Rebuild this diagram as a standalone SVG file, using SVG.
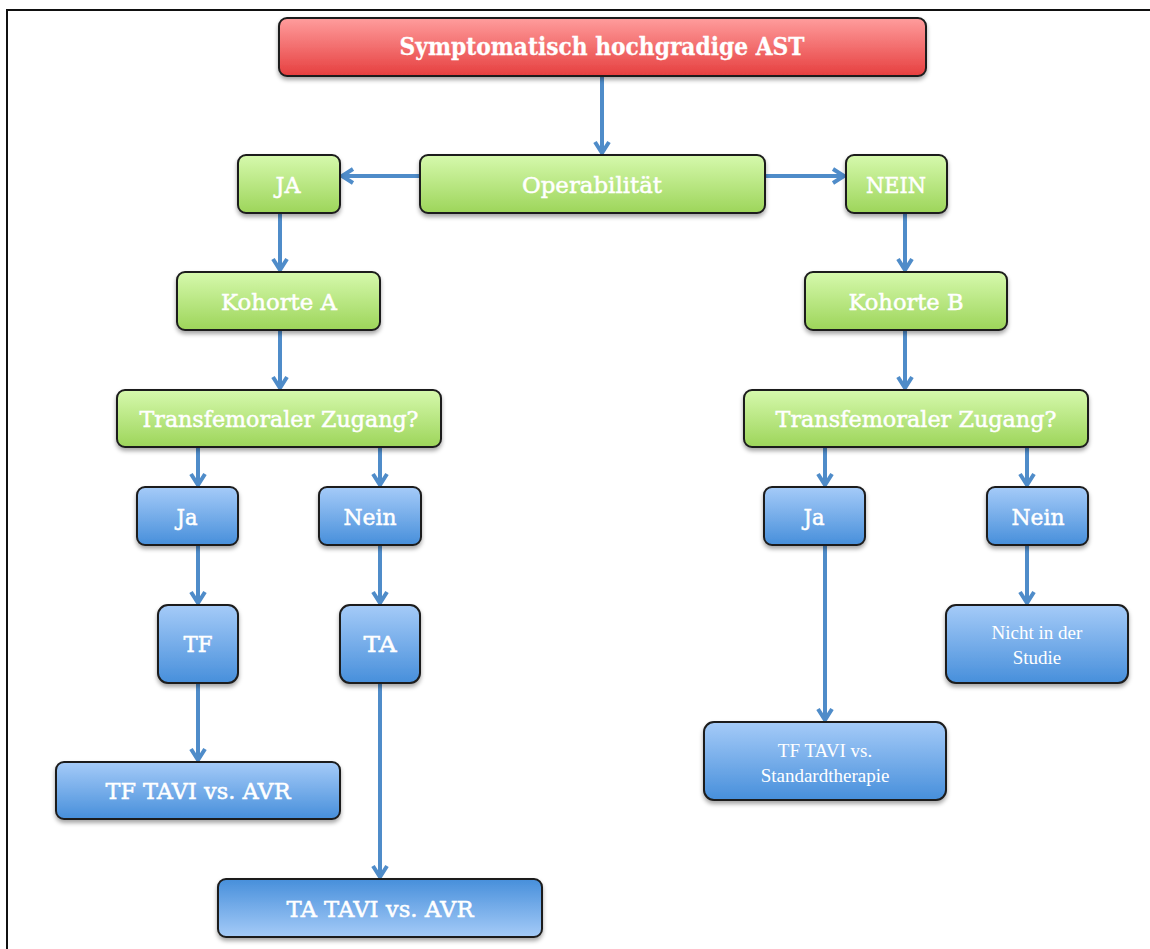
<svg xmlns="http://www.w3.org/2000/svg" width="1150" height="949" viewBox="0 0 1150 949">
<style>
.box{stroke:#1c1c1c;stroke-width:2;filter:url(#sh)}
.red{fill:url(#gRed)}
.green{fill:url(#gGreen)}
.blue{fill:url(#gBlue)}
.blueR{fill:url(#gBlueR)}
.t{font-family:"DejaVu Serif","Liberation Serif",serif;fill:#ffffff;stroke:#ffffff;stroke-width:0.5;text-anchor:middle;font-size:22px}
.tb{font-size:25px;font-weight:bold;stroke-width:0.3}
.ts{font-family:"Liberation Serif","Times New Roman",serif;fill:#ffffff;text-anchor:middle;font-size:19px}
.c{fill:none;stroke:#4f8cc9;stroke-width:4;marker-end:url(#ah)}
</style>
<defs>
<linearGradient id="gRed" x1="0" y1="0" x2="0" y2="1"><stop offset="0" stop-color="#ff9d9d"/><stop offset="1" stop-color="#e63f3f"/></linearGradient>
<linearGradient id="gGreen" x1="0" y1="0" x2="0" y2="1"><stop offset="0" stop-color="#d6f9ad"/><stop offset="1" stop-color="#9dd55a"/></linearGradient>
<linearGradient id="gBlue" x1="0" y1="0" x2="0" y2="1"><stop offset="0" stop-color="#a5cbf8"/><stop offset="1" stop-color="#478fdb"/></linearGradient>
<linearGradient id="gBlueR" x1="0" y1="0" x2="0" y2="1"><stop offset="0" stop-color="#478fdb"/><stop offset="1" stop-color="#a5cbf8"/></linearGradient>
<filter id="sh" x="-10%" y="-20%" width="120%" height="150%"><feDropShadow dx="0" dy="3" stdDeviation="2" flood-color="#000" flood-opacity="0.35"/></filter>
<marker id="ah" markerUnits="userSpaceOnUse" markerWidth="20" markerHeight="20" refX="13" refY="8" orient="auto" viewBox="0 0 20 16"><path d="M2,1 L13,8 L2,15" fill="none" stroke="#4f8cc9" stroke-width="4" stroke-linejoin="miter"/></marker>
</defs>
<rect width="1150" height="949" fill="#ffffff"/>
<path d="M7,949 V10 H1150" fill="none" stroke="#111" stroke-width="2"/>

<g id="connectors">
<path class="c" d="M602,77 V153"/>
<path class="c" d="M420,176 H342"/>
<path class="c" d="M765,176 H844"/>
<path class="c" d="M280,214 V270"/>
<path class="c" d="M905,214 V270"/>
<path class="c" d="M280,331 V388"/>
<path class="c" d="M905,331 V388"/>
<path class="c" d="M198,448 V485"/>
<path class="c" d="M380,448 V485"/>
<path class="c" d="M825,448 V485"/>
<path class="c" d="M1027,448 V485"/>
<path class="c" d="M198,546 V603"/>
<path class="c" d="M380,546 V603"/>
<path class="c" d="M1027,546 V603"/>
<path class="c" d="M198,684 V760"/>
<path class="c" d="M380,684 V877"/>
<path class="c" d="M825,546 V720"/>
</g>

<g id="n-ast"><rect class="box red" x="279" y="18" width="647" height="58" rx="8"/><text class="t tb" x="602" y="55" textLength="405" lengthAdjust="spacingAndGlyphs">Symptomatisch hochgradige AST</text></g>
<g id="n-oper"><rect class="box green" x="420" y="155" width="345" height="58" rx="8"/><text class="t" x="592" y="193" textLength="140" lengthAdjust="spacingAndGlyphs">Operabilität</text></g>
<g id="n-ja"><rect class="box green" x="238" y="155" width="102" height="58" rx="8"/><text class="t" x="288" y="193" textLength="25" lengthAdjust="spacingAndGlyphs">JA</text></g>
<g id="n-nein"><rect class="box green" x="846" y="155" width="101" height="58" rx="8"/><text class="t" x="896" y="193" textLength="60" lengthAdjust="spacingAndGlyphs">NEIN</text></g>
<g id="n-kohA"><rect class="box green" x="177" y="272" width="203" height="58" rx="8"/><text class="t" x="279" y="310" textLength="116" lengthAdjust="spacingAndGlyphs">Kohorte A</text></g>
<g id="n-kohB"><rect class="box green" x="805" y="272" width="202" height="58" rx="8"/><text class="t" x="906" y="310" textLength="115" lengthAdjust="spacingAndGlyphs">Kohorte B</text></g>
<g id="n-tfzL"><rect class="box green" x="117" y="390" width="324" height="57" rx="8"/><text class="t" x="279" y="427" textLength="279" lengthAdjust="spacingAndGlyphs">Transfemoraler Zugang?</text></g>
<g id="n-tfzR"><rect class="box green" x="744" y="390" width="344" height="57" rx="8"/><text class="t" x="916" y="427" textLength="281" lengthAdjust="spacingAndGlyphs">Transfemoraler Zugang?</text></g>
<g id="n-jaL"><rect class="box blue" x="137" y="487" width="101" height="58" rx="8"/><text class="t" x="187" y="525" textLength="21" lengthAdjust="spacingAndGlyphs">Ja</text></g>
<g id="n-neinL"><rect class="box blue" x="319" y="487" width="102" height="58" rx="8"/><text class="t" x="370" y="525" textLength="53" lengthAdjust="spacingAndGlyphs">Nein</text></g>
<g id="n-jaR"><rect class="box blue" x="764" y="487" width="101" height="58" rx="8"/><text class="t" x="814" y="525" textLength="21" lengthAdjust="spacingAndGlyphs">Ja</text></g>
<g id="n-neinR"><rect class="box blue" x="987" y="487" width="101" height="58" rx="8"/><text class="t" x="1038" y="525" textLength="53" lengthAdjust="spacingAndGlyphs">Nein</text></g>
<g id="n-tf"><rect class="box blue" x="158" y="605" width="80" height="78" rx="10"/><text class="t" x="198" y="652" textLength="29" lengthAdjust="spacingAndGlyphs">TF</text></g>
<g id="n-ta"><rect class="box blue" x="340" y="605" width="80" height="78" rx="10"/><text class="t" x="380" y="652" textLength="33" lengthAdjust="spacingAndGlyphs">TA</text></g>
<g id="n-nicht"><rect class="box blue" x="946" y="605" width="182" height="78" rx="10"/><text class="ts" x="1037" y="639">Nicht in der</text><text class="ts" x="1037" y="664">Studie</text></g>
<g id="n-tftavi"><rect class="box blue" x="56" y="762" width="284" height="57" rx="8"/><text class="t" x="198" y="799" textLength="185" lengthAdjust="spacingAndGlyphs">TF TAVI vs. AVR</text></g>
<g id="n-tfstd"><rect class="box blue" x="704" y="722" width="242" height="78" rx="10"/><text class="ts" x="825" y="757">TF TAVI vs.</text><text class="ts" x="825" y="782">Standardtherapie</text></g>
<g id="n-tatavi"><rect class="box blueR" x="218" y="879" width="324" height="58" rx="8"/><text class="t" x="380" y="917" textLength="187" lengthAdjust="spacingAndGlyphs">TA TAVI vs. AVR</text></g>
</svg>
